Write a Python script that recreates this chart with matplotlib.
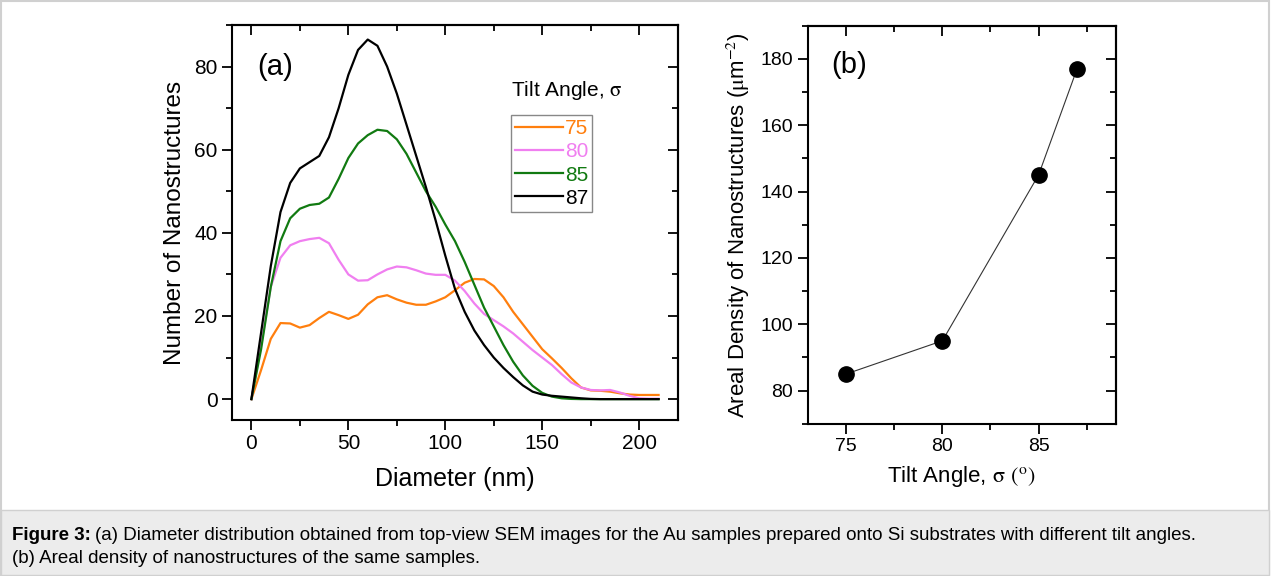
import numpy as np
from matplotlib import pyplot as plt
from matplotlib.patches import Rectangle
from matplotlib.ticker import MultipleLocator

plt.rcParams['font.family'] = ['Liberation Sans', 'DejaVu Sans']
plt.rcParams['mathtext.fontset'] = 'stix'

# (a) diameter distribution, read every 5 nm
diameter = np.arange(0, 215, 5)
n75 = [0, 7, 14.5, 18.3, 18.2, 17.2, 17.8, 19.5, 21, 20.2, 19.3, 20.3, 22.8, 24.5, 25, 24,
       23.2, 22.7, 22.7, 23.5, 24.5, 26.2, 28, 28.9, 28.8, 27.2, 24.5, 21, 18, 15, 12, 9.8,
       7.5, 5, 2.8, 2.1, 2, 1.8, 1.4, 1.1, 1, 1, 1]
n80 = [0, 13, 27, 34, 37, 38, 38.5, 38.8, 37.5, 33.5, 30, 28.5, 28.6, 30, 31.2, 31.9,
       31.7, 31, 30.2, 29.9, 29.9, 28.5, 26, 23, 20.5, 19, 17.5, 15.8, 13.8, 11.8, 10, 8.2,
       6, 4, 2.8, 2.2, 2.1, 2.2, 1.6, 0.8, 0.2, 0.1, 0.1]
n85 = [0, 12, 27, 38, 43.5, 45.8, 46.7, 47, 48.5, 53, 58, 61.5, 63.5, 64.8, 64.5, 62.5,
       59, 54.5, 50, 46.3, 42, 38, 33, 27.5, 22, 17.5, 13, 9, 5.7, 3.2, 1.5, 0.6,
       0.2, 0.05, 0, 0, 0, 0, 0, 0, 0, 0, 0]
n87 = [0, 16, 32, 45, 52, 55.5, 57, 58.5, 63, 70, 78, 84, 86.5, 85, 80, 73.5,
       66, 58.5, 51, 43, 34.5, 26.5, 21, 16.5, 13, 10, 7.5, 5.3, 3.3, 1.8, 1.1, 0.8,
       0.6, 0.4, 0.2, 0.05, 0, 0, 0, 0, 0, 0, 0]
series_labels = ['75', '80', '85', '87']
series_colors = ['#ff7f0e', '#f07ff0', '#117a11', '#000000']

# (b) areal density
tilt = [75, 80, 85, 87]
density = [85, 95, 145, 177]

fig = plt.figure(figsize=(12.72, 5.76), dpi=100)

# frame and caption panel
fig.patches.append(Rectangle((0.001, 0.002), 0.997, 0.996, transform=fig.transFigure,
                             facecolor='none', edgecolor='#d0d0d0', lw=1.5, zorder=0))
fig.patches.append(Rectangle((0.001, 0.002), 0.997, 0.112, transform=fig.transFigure,
                             facecolor='#ececec', edgecolor='#d0d0d0', lw=1.0, zorder=0))


def style_axes(ax, fs):
    for s in ax.spines.values():
        s.set_linewidth(1.5)
    ax.tick_params(which='both', direction='out', width=1.3, labelsize=fs,
                   top=False, right=False)
    ax.tick_params(which='major', length=7)
    ax.tick_params(which='minor', length=4)
    top = ax.secondary_xaxis('top')
    right = ax.secondary_yaxis('right')
    top.xaxis.set_major_locator(ax.xaxis.get_major_locator())
    top.xaxis.set_minor_locator(ax.xaxis.get_minor_locator())
    right.yaxis.set_major_locator(ax.yaxis.get_major_locator())
    right.yaxis.set_minor_locator(ax.yaxis.get_minor_locator())
    for sec in (top, right):
        sec.tick_params(which='both', direction='in', width=1.3, labeltop=False, labelright=False)
        sec.tick_params(which='major', length=7)
        sec.tick_params(which='minor', length=4)
        for s in sec.spines.values():
            s.set_linewidth(1.5)


# ---- panel (a)
ax1 = fig.add_axes([0.1824, 0.271, 0.3506, 0.6856])
for y, lab, c in zip([n75, n80, n85, n87], series_labels, series_colors):
    ax1.plot(diameter, y, color=c, lw=1.6, label=lab)
ax1.set_xlim(-10, 220)
ax1.set_ylim(-5, 90)
ax1.xaxis.set_major_locator(MultipleLocator(50))
ax1.xaxis.set_minor_locator(MultipleLocator(25))
ax1.yaxis.set_major_locator(MultipleLocator(20))
ax1.yaxis.set_minor_locator(MultipleLocator(10))
style_axes(ax1, 15)
ax1.set_xlabel('Diameter (nm)', fontsize=18, labelpad=10)
ax1.set_ylabel('Number of Nanostructures', fontsize=17.5, labelpad=6)
ax1.text(3, 80, '(a)', fontsize=21, va='center')
ax1.text(0.75, 0.835, r'Tilt Angle, $\mathrm{\sigma}$', transform=ax1.transAxes, fontsize=15,
         ha='center', va='center')
leg = ax1.legend(loc='upper left', bbox_to_anchor=(0.625, 0.772), fontsize=15,
                 labelcolor='linecolor', handlelength=2.3, handletextpad=0.1,
                 labelspacing=0.2, borderpad=0.2, borderaxespad=0,
                 fancybox=False, edgecolor='#888888', framealpha=1)
leg.get_frame().set_linewidth(1.0)

# ---- panel (b)
ax2 = fig.add_axes([0.635, 0.2644, 0.242, 0.691])
ax2.plot(tilt, density, color='#333333', lw=0.8, marker='o', ms=11,
         mfc='black', mec='black')
ax2.set_xlim(73, 89)
ax2.set_ylim(70, 190)
ax2.xaxis.set_major_locator(MultipleLocator(5))
ax2.xaxis.set_minor_locator(MultipleLocator(2.5))
ax2.yaxis.set_major_locator(MultipleLocator(20))
ax2.yaxis.set_minor_locator(MultipleLocator(10))
style_axes(ax2, 14)
ax2.set_xlabel(r'Tilt Angle, $\mathrm{\sigma}$ $(^{\rm o})$', fontsize=16, labelpad=6)
ax2.set_ylabel(r'Areal Density of Nanostructures ($\mathrm{\mu}$m$^{-2}$)', fontsize=16, labelpad=6)
ax2.text(74.2, 178, '(b)', fontsize=21, va='center')

# ---- caption
fig.canvas.draw()
r = fig.canvas.get_renderer()
t1 = fig.text(0.0094, 0.071, 'Figure 3:', fontsize=13.5, fontweight='bold', va='center')
bb = t1.get_window_extent(renderer=r).transformed(fig.transFigure.inverted())
fig.text(bb.x1 + 0.003, 0.071,
         '(a) Diameter distribution obtained from top-view SEM images for the Au samples '
         'prepared onto Si substrates with different tilt angles.',
         fontsize=13.5, va='center')
fig.text(0.0094, 0.031, '(b) Areal density of nanostructures of the same samples.',
         fontsize=13.5, va='center')

fig.savefig('out.png', dpi=100)
